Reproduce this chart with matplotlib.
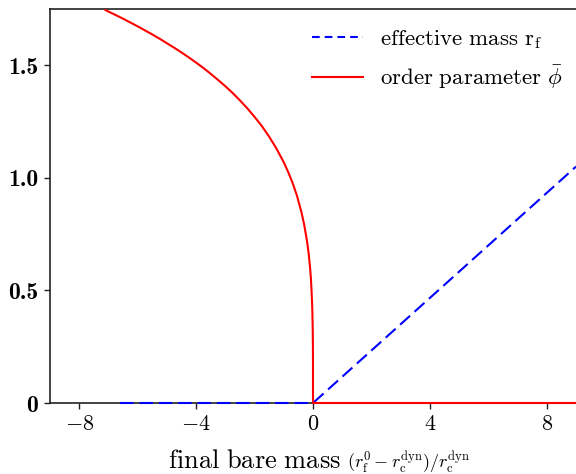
import matplotlib
matplotlib.use("Agg")
import matplotlib.pyplot as plt
from matplotlib.lines import Line2D

plt.rcParams['mathtext.fontset'] = 'cm'
plt.rcParams['font.family'] = 'serif'
plt.rcParams['font.serif'] = ['cmr10', 'DejaVu Serif']
plt.rcParams['axes.unicode_minus'] = False

# effective mass r_f (blue dashed)
mass_x = [-6.6, 0.0, 9.0]
mass_y = [0.0, 0.0, 1.05]

# order parameter phi-bar (red solid)
phi_x = [-7.1, -6.75, -6.5, -6.25, -6.0, -5.75, -5.5, -5.25, -5.0, -4.75,
         -4.5, -4.25, -4.0, -3.75, -3.5, -3.25, -3.0, -2.75, -2.5, -2.25,
         -2.0, -1.75, -1.5, -1.25, -1.0, -0.85, -0.7, -0.55, -0.4,
         -0.3, -0.2, -0.15, -0.1, -0.07, -0.05, -0.03, -0.02, -0.01,
         -0.004, -0.001, 0.0, 0.0, 9.0]
phi_y = [1.745, 1.723, 1.707, 1.690, 1.673, 1.655, 1.637, 1.618, 1.598, 1.578,
         1.557, 1.535, 1.512, 1.488, 1.462, 1.435, 1.407, 1.377, 1.344, 1.309,
         1.271, 1.230, 1.183, 1.130, 1.069, 1.026, 0.978, 0.921, 0.850,
         0.791, 0.715, 0.665, 0.601, 0.550, 0.500, 0.440, 0.395, 0.330,
         0.265, 0.19, 0.0, 0.0, 0.0]

xticks = [-8, -4, 0, 4, 8]
xtick_labels = [r'$-8$', r'$-4$', r'$0$', r'$4$', r'$8$']
yticks = [0, 0.5, 1.0, 1.5]
ytick_labels = ['0', '0.5', '1.0', '1.5']

label_mass = r'$\mathrm{effective\ mass\ r_f}$'
label_phi = r'$\mathrm{order\ parameter\ }\bar{\phi}$'

fig = plt.figure(figsize=(5.76, 4.74), dpi=100)
ax = fig.add_axes([50/576, 71/474, 1 - 50/576, (403 - 9)/474])

ax.plot(mass_x, mass_y, color='blue', lw=1.5, linestyle=(0, (6.4, 2.9)),
        clip_on=False, zorder=3)
ax.plot(phi_x, phi_y, color='red', lw=1.5, clip_on=False, zorder=4)

ax.set_xlim(-9, 9)
ax.set_ylim(0, 1.75)
ax.set_xticks(xticks)
ax.set_xticklabels(xtick_labels, fontsize=16)
ax.set_yticks(yticks)
ax.set_yticklabels(ytick_labels, fontsize=17, fontfamily='cmb10')
ax.tick_params(direction='out', length=4.5, width=1.0, colors='#222222', pad=4)
for lbl in ax.get_xticklabels() + ax.get_yticklabels():
    lbl.set_color('black')

for side in ['left', 'bottom', 'top']:
    ax.spines[side].set_linewidth(1.2)
    ax.spines[side].set_color('#222222')
ax.spines['right'].set_visible(False)

handles = [Line2D([], [], color='blue', lw=1.5, linestyle=(0, (3.7, 2.4))),
           Line2D([], [], color='red', lw=1.5)]
leg = ax.legend(handles, [label_mass, label_phi], loc='upper right',
                frameon=False, fontsize=16.5,
                handlelength=2.2, handletextpad=0.75, labelspacing=0.5,
                borderaxespad=0.45, bbox_to_anchor=(1.012, 1.0))

# x label in two parts: text and smaller math
fig.text(341/576, 1 - 468/474, r'$\mathrm{final\ bare\ mass}$', fontsize=19,
         ha='right', va='baseline')
fig.text(347/576, 1 - 468/474,
         r'$(r_\mathrm{f}^0-r_\mathrm{c}^\mathrm{dyn})/r_\mathrm{c}^\mathrm{dyn}$',
         fontsize=13, ha='left', va='baseline')

fig.savefig('out.png', dpi=100)
